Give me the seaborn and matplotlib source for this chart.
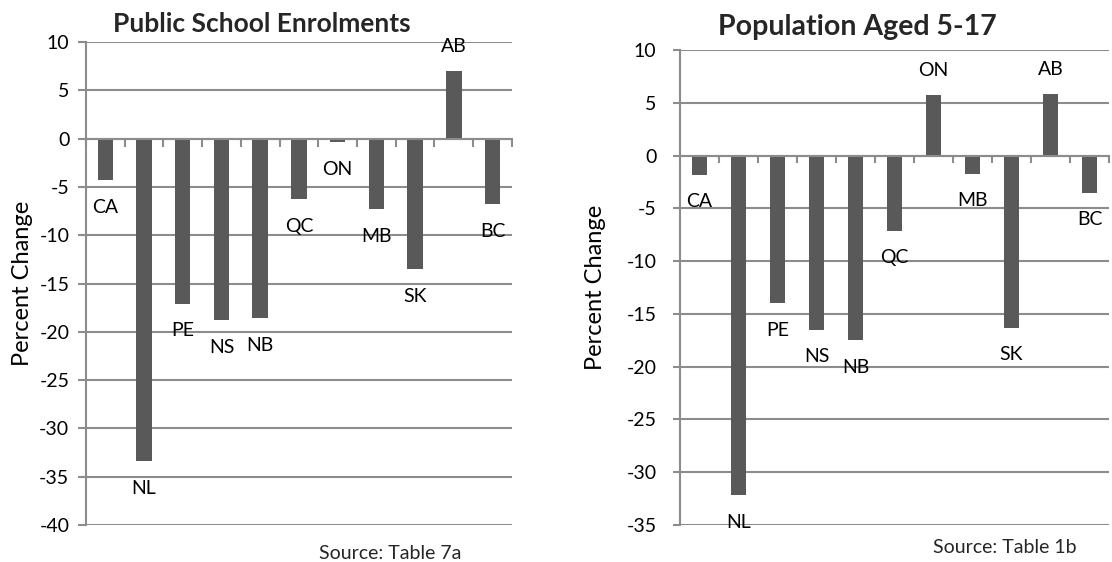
import matplotlib
matplotlib.use("Agg")
import matplotlib.pyplot as plt
import seaborn as sns
import pandas as pd
import numpy as np

provinces = ["CA", "NL", "PE", "NS", "NB", "QC", "ON", "MB", "SK", "AB", "BC"]
enrol_change = [-4.3, -33.4, -17.1, -18.8, -18.6, -6.3, -0.4, -7.3, -13.5, 7.0, -6.8]
pop_change = [-1.8, -32.2, -14.0, -16.5, -17.5, -7.1, 5.7, -1.7, -16.3, 5.8, -3.5]

titles = ["Public School Enrolments", "Population Aged 5-17"]
sources = ["Source: Table 7a", "Source: Table 1b"]
ylims = [(-40, 10), (-35, 10)]

sns.set_theme(style="white")
plt.rcParams['font.family'] = ['Lato', 'DejaVu Sans']
plt.rcParams['axes.unicode_minus'] = False

GRID = "#8c8c8c"
BAR = "#595959"

fig = plt.figure(figsize=(11.12, 5.62), dpi=100)
axes = [fig.add_axes([0.0773, 0.0658, 0.383, 0.8594]),
        fig.add_axes([0.6115, 0.0658, 0.3858, 0.8452])]
pads = [6, 12]
tlens = [6, 5]
ylab_x = [-0.125, -0.172]

for k, (ax, vals, yl) in enumerate(zip(axes, [enrol_change, pop_change], ylims)):
    df = pd.DataFrame({"prov": provinces, "val": vals})
    sns.barplot(data=df, x="prov", y="val", ax=ax, color=BAR, saturation=1,
                width=0.4, order=provinces)
    for p in ax.patches:
        p.set_edgecolor("none")
    ax.set_xlim(-0.5, len(provinces) - 0.5)
    ax.set_ylim(*yl)
    ax.set_yticks(np.arange(yl[0], yl[1] + 1, 5))
    ax.yaxis.grid(True, color=GRID, linewidth=1.5)
    ax.set_axisbelow(True)
    for s in ["top", "right"]:
        ax.spines[s].set_visible(False)
    ax.spines["left"].set_color(GRID)
    ax.spines["left"].set_linewidth(1.5)
    ax.spines["bottom"].set_position(("data", 0))
    ax.spines["bottom"].set_color(GRID)
    ax.spines["bottom"].set_linewidth(1.5)
    ax.set_xticks(np.arange(-0.5, len(provinces) - 0.4, 1.0))
    ax.set_xticklabels([])
    ax.tick_params(axis="x", direction="out", length=tlens[k], width=1.5, color=GRID, bottom=True)
    ax.tick_params(axis="y", direction="out", length=tlens[k], width=1.5, color=GRID, left=True,
                   labelsize=14, labelcolor="black", pad=pads[k])
    ax.set_xlabel("")
    ax.set_ylabel("Percent Change", fontsize=17, color="black")
    ax.yaxis.set_label_coords(ylab_x[k], 0.5)
    for i, (lab, v) in enumerate(zip(provinces, vals)):
        off = 25 if v >= 0 else -27
        ax.annotate(lab, (i, v), xytext=(0, off), textcoords="offset pixels",
                    ha="center", va="center", fontsize=14, color="black")

fig.text(0.2356, 0.957, titles[0], ha="center", va="center", fontsize=19, fontweight="bold")
fig.text(0.7707, 0.952, titles[1], ha="center", va="center", fontsize=20.5, fontweight="bold")
fig.text(0.351, 0.016, sources[0], ha="center", va="center", fontsize=14)
fig.text(0.904, 0.025, sources[1], ha="center", va="center", fontsize=14)

fig.savefig("out.png", dpi=100)
